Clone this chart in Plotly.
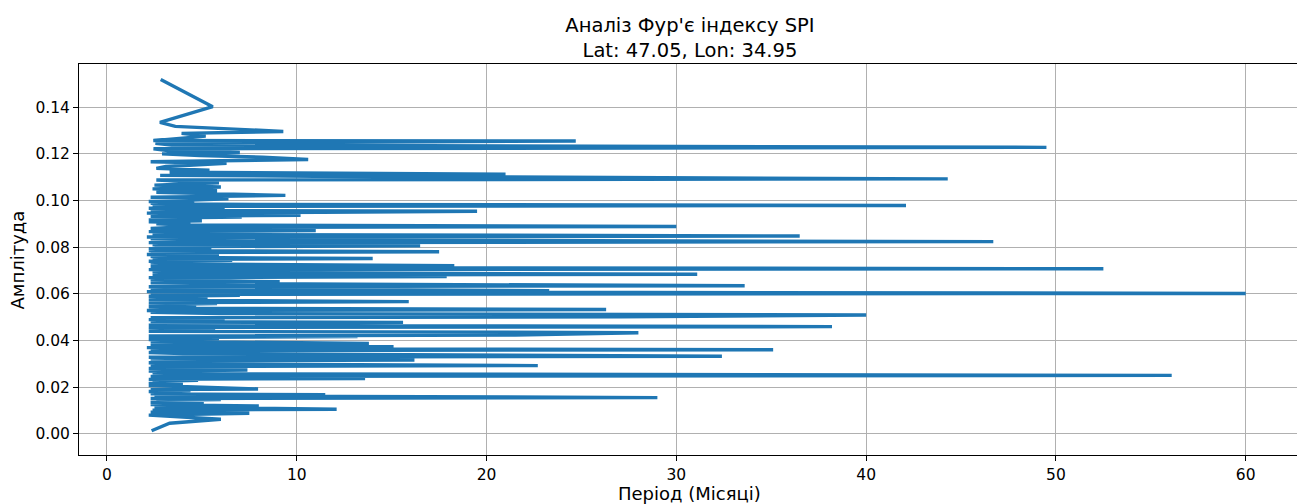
import plotly.graph_objects as go

# Period (months) and amplitude, in the plotted (amplitude-sorted) order.
# Upper part (amplitude 0.152 .. 0.100)
period_top = [
    2.83, 5.57, 2.79, 3.6, 9.29, 3.93, 5.2, 4.0, 2.44, 24.7,
    2.55, 3.4, 49.5, 2.45, 3.2, 7.0, 2.9, 4.9, 8.2, 10.6,
    2.3, 6.3, 4.6, 3.1, 2.6, 5.4, 3.3, 21.0, 2.8, 11.0,
    44.3, 2.6, 5.9, 2.5, 6.0, 2.4, 5.8, 2.6, 9.4, 2.3,
    6.4, 2.7,
]
amp_top = [
    0.1519, 0.1402, 0.1335, 0.1318, 0.1296, 0.1288, 0.1276, 0.1268, 0.1257, 0.1255,
    0.1245, 0.1238, 0.1228, 0.1222, 0.1214, 0.1206, 0.1200, 0.1193, 0.1186, 0.1176,
    0.1166, 0.1160, 0.1152, 0.1146, 0.1138, 0.1130, 0.1122, 0.1113, 0.1108, 0.1104,
    0.1093, 0.1088, 0.1076, 0.1066, 0.1058, 0.1050, 0.1042, 0.1035, 0.1022, 0.1014,
    0.1007, 0.1000,
]
# Middle part (amplitude 0.100 .. 0.021)
period_mid = [
    2.2, 4.6, 2.3, 5.8, 42.1, 2.4, 3.8, 2.2, 6.2, 2.3,
    19.5, 11.3, 2.1, 4.9, 10.2, 2.3, 7.1, 2.5, 4.2, 2.2,
    5.0, 2.2, 4.4, 2.6, 3.9, 30.0, 3.4, 2.3, 5.6, 11.0,
    2.2, 6.0, 2.4, 4.3, 36.5, 2.1, 8.0, 2.3, 5.2, 46.7,
    2.2, 4.5, 2.4, 16.5, 2.5, 5.5, 2.2, 3.7, 2.2, 17.5,
    2.3, 4.8, 2.1, 5.9, 2.3, 4.1, 14.0, 2.4, 6.6, 2.2,
    3.5, 2.3, 4.2, 18.3, 2.3, 4.7, 52.5, 2.2, 5.1, 2.4,
    3.8, 31.1, 2.4, 17.9, 2.2, 3.6, 2.3, 6.3, 9.1, 2.3,
    5.6, 33.6, 2.2, 4.6, 2.3, 23.3, 2.1, 60.0, 2.3, 7.0,
    2.2, 4.0, 2.4, 5.3, 2.2, 15.9, 2.2, 5.8, 2.3, 3.9,
    2.2, 4.7, 2.2, 26.3, 2.1, 4.4, 2.3, 6.0, 40.0, 27.1,
    2.3, 6.2, 2.2, 4.1, 2.3, 15.6, 2.4, 5.2, 2.2, 38.2,
    2.2, 4.5, 2.3, 5.7, 2.2, 28.0, 21.5, 2.2, 13.2, 2.4,
    5.9, 2.2, 4.3, 2.3, 13.8, 2.3, 4.6, 15.1, 2.1, 5.0,
    35.1, 2.3, 7.5, 2.2, 4.0, 32.4, 2.2, 5.1, 2.3, 16.2,
    2.4, 5.4, 2.2, 3.7, 22.7, 2.3, 4.2, 2.2, 7.4, 2.2,
    3.8, 2.4, 5.0, 56.1, 2.3, 4.4, 13.6, 2.2, 4.8, 2.4,
    3.5, 2.2, 4.0, 2.2,
]
amp_mid = [
    0.0996, 0.0992, 0.0988, 0.0984, 0.0979, 0.0975, 0.0971, 0.0967, 0.0963, 0.0958,
    0.0954, 0.0950, 0.0946, 0.0942, 0.0937, 0.0933, 0.0929, 0.0925, 0.0921, 0.0917,
    0.0913, 0.0909, 0.0905, 0.0900, 0.0896, 0.0889, 0.0885, 0.0881, 0.0876, 0.0871,
    0.0867, 0.0863, 0.0859, 0.0855, 0.0848, 0.0844, 0.0840, 0.0836, 0.0832, 0.0824,
    0.0820, 0.0816, 0.0811, 0.0806, 0.0802, 0.0798, 0.0794, 0.0790, 0.0786, 0.0781,
    0.0777, 0.0773, 0.0769, 0.0765, 0.0760, 0.0756, 0.0752, 0.0748, 0.0744, 0.0740,
    0.0736, 0.0732, 0.0728, 0.0721, 0.0717, 0.0713, 0.0708, 0.0704, 0.0700, 0.0696,
    0.0692, 0.0684, 0.0680, 0.0674, 0.0670, 0.0666, 0.0662, 0.0657, 0.0652, 0.0648,
    0.0644, 0.0635, 0.0631, 0.0627, 0.0622, 0.0614, 0.0610, 0.0602, 0.0598, 0.0594,
    0.0590, 0.0586, 0.0582, 0.0578, 0.0574, 0.0567, 0.0563, 0.0559, 0.0555, 0.0551,
    0.0547, 0.0543, 0.0539, 0.0533, 0.0529, 0.0525, 0.0521, 0.0516, 0.0510, 0.0502,
    0.0498, 0.0494, 0.0490, 0.0486, 0.0482, 0.0478, 0.0474, 0.0470, 0.0466, 0.0460,
    0.0456, 0.0452, 0.0448, 0.0444, 0.0440, 0.0434, 0.0424, 0.0420, 0.0417, 0.0413,
    0.0409, 0.0405, 0.0401, 0.0397, 0.0388, 0.0384, 0.0379, 0.0374, 0.0370, 0.0366,
    0.0361, 0.0357, 0.0353, 0.0349, 0.0345, 0.0333, 0.0329, 0.0325, 0.0321, 0.0317,
    0.0313, 0.0309, 0.0305, 0.0301, 0.0293, 0.0289, 0.0285, 0.0281, 0.0274, 0.0270,
    0.0266, 0.0262, 0.0258, 0.0251, 0.0247, 0.0243, 0.0238, 0.0234, 0.0230, 0.0226,
    0.0222, 0.0216, 0.0212, 0.0208,
]
# Lower part (amplitude 0.020 .. 0.001)
period_low = [
    7.96, 2.3, 4.4, 2.2, 3.6, 2.3, 11.5, 2.5, 29.0, 2.3,
    6.0, 2.6, 4.0, 2.3, 5.1, 2.3, 8.0, 2.5, 12.1, 2.4,
    5.0, 2.3, 7.5, 2.2, 4.0, 6.0, 3.3, 2.35,
]
amp_low = [
    0.0193, 0.0190, 0.0186, 0.0182, 0.0178, 0.0172, 0.0168, 0.0164, 0.0156, 0.0152,
    0.0148, 0.0144, 0.0140, 0.0135, 0.0130, 0.0126, 0.0120, 0.0116, 0.0106, 0.0102,
    0.0097, 0.0093, 0.0089, 0.0081, 0.0072, 0.0063, 0.0046, 0.0014,
]

period = period_top + period_mid + period_low
amplitude = amp_top + amp_mid + amp_low

x_ticks = [0, 10, 20, 30, 40, 50, 60]
y_ticks = [0.00, 0.02, 0.04, 0.06, 0.08, 0.10, 0.12, 0.14]

title_text = "Аналіз Фур'є індексу SPI<br>Lat: 47.05, Lon: 34.95"
x_label = "Період (Місяці)"
y_label = "Амплітуда"

FONT = "DejaVu Sans"

fig = go.Figure()
fig.add_trace(go.Scatter(
    x=period, y=amplitude, mode="lines",
    line=dict(color="#1f77b4", width=3.4),
    hoverinfo="x+y", showlegend=False,
))

axis_common = dict(
    showline=True, linecolor="black", linewidth=1, mirror=True,
    ticks="outside", ticklen=5, tickwidth=1, tickcolor="black",
    showgrid=True, gridcolor="#b0b0b0", gridwidth=1, zeroline=False,
    tickfont=dict(family=FONT, size=15.5, color="black"),
)

# page body has an 8px margin, so the figure is sized/placed to compensate
fig.update_layout(
    width=1297, height=496,
    margin=dict(l=71, r=5, t=56, b=49, autoexpand=False),
    paper_bgcolor="white", plot_bgcolor="white",
    font=dict(family=FONT, color="black"),
    xaxis=dict(range=[-1.475, 62.86], tickvals=x_ticks, automargin=False, **axis_common),
    yaxis=dict(range=[-0.009, 0.1585], tickvals=y_ticks, tickformat=".2f", automargin=False, **axis_common),
    title=dict(text=title_text, x=0.5258, xanchor="center", y=0.9516, yanchor="middle",
               font=dict(family=FONT, size=19.5, color="black")),
    annotations=[
        dict(text=x_label, xref="paper", yref="paper", x=0.5, y=-0.0997, xanchor="center",
             yanchor="middle", showarrow=False, font=dict(family=FONT, size=18, color="black")),
        dict(text=y_label, xref="paper", yref="paper", x=-0.0500, y=0.5, xanchor="center",
             yanchor="middle", textangle=-90, showarrow=False,
             font=dict(family=FONT, size=18, color="black")),
    ],
)

fig.write_html("out.html")
